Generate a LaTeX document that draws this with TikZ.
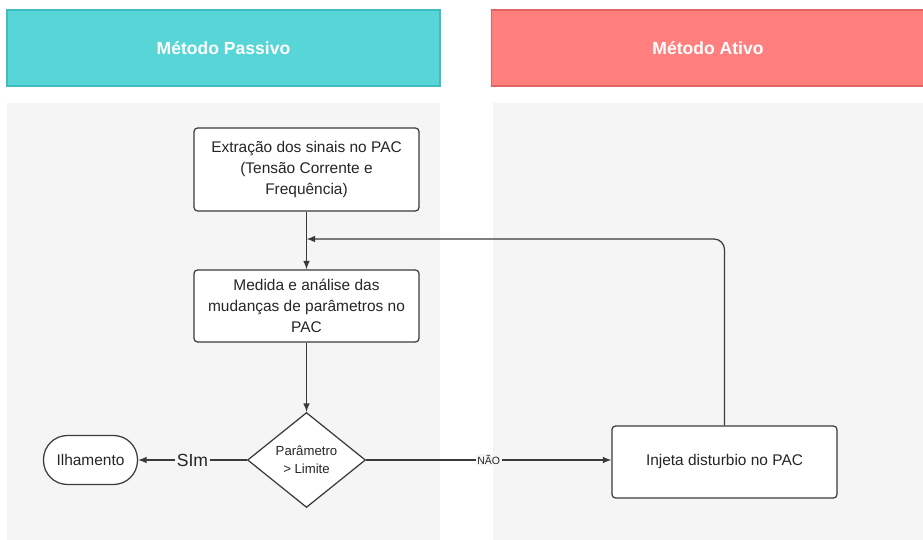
\documentclass[tikz,border=0pt]{standalone}
\usepackage{fontspec}
\setmainfont{Liberation Sans}
\usetikzlibrary{arrows}
\usetikzlibrary{positioning,shapes,fit}
\usepackage{xcolor}
\definecolor{passivo}{HTML}{58D5D6}
\definecolor{passivoedge}{HTML}{3FBCBD}
\definecolor{ativo}{HTML}{FF7F7F}
\definecolor{ativoedge}{HTML}{E06464}
\definecolor{painel}{HTML}{F5F5F5}
\definecolor{linha}{HTML}{3A3A3A}

\begin{document}
\begin{tikzpicture}[x=0.02cm,y=-0.02cm,
    titulo/.style={draw, line width=0.8pt, minimum width=8.66cm, minimum height=1.52cm,
      text=white, font=\fontsize{10}{11}\selectfont\bfseries},
    caixa/.style={draw=linha, fill=white, rounded corners=2pt, line width=0.7pt,
      minimum width=4.5cm, align=center, text=black!85,
      font=\fontsize{8.8}{11.8}\selectfont},
    decisao/.style={draw=linha, fill=white, diamond, line width=0.7pt, inner sep=0pt,
      minimum width=2.36cm, minimum height=1.9cm, align=center, text=black!85,
      font=\fontsize{7.5}{10}\selectfont},
    fim/.style={draw=linha, fill=white, rounded corners=0.48cm, line width=0.7pt,
      minimum width=1.88cm, minimum height=0.98cm, text=black!85,
      font=\fontsize{8.8}{10}\selectfont},
    seta/.style={draw=linha, line width=0.7pt, -latex}]
      \useasboundingbox (0,0) rectangle (923,540);
      % raias
      \fill[painel] (7,103) rectangle (440,540);
      \fill[painel] (493,103) rectangle (923,540);
      \node[titulo, fill=passivo, draw=passivoedge] (passivo) at (223.5,48) {Método Passivo};
      \node[titulo, fill=ativo, draw=ativoedge] (ativo) at (708,48) {Método Ativo};
      % fluxo
      \node[caixa, minimum height=1.66cm] (extracao) at (306.5,169.5)
        {Extração dos sinais no PAC\\(Tensão Corrente e\\Frequência)};
      \node[caixa, minimum height=1.44cm] (medida) at (306.5,306)
        {Medida e análise das\\mudanças de parâmetros no\\PAC};
      \node[decisao] (limite) at (306.5,460) {Parâmetro\\> Limite};
      \node[fim] (ilha) at (90.5,460) {Ilhamento};
      \node[caixa, minimum height=1.44cm] (injeta) at (724.5,462) {Injeta disturbio no PAC};
      \coordinate (volta) at (306.5,239);
      \draw[seta] (extracao) -- (medida);
      \draw[seta] (medida) -- (limite);
      \draw[seta] (limite) -- node[fill=painel, inner sep=1pt,
        font=\fontsize{10}{10}\selectfont, text=black!85] {SIm} (ilha);
      \draw[seta] (limite.east) -- node[fill=painel, inner sep=1pt,
        font=\fontsize{6}{6}\selectfont, text=black!85] {NÃO} (injeta.west |- limite);
      \draw[seta, rounded corners=6pt] (injeta.north) |- (volta);
\end{tikzpicture}
\end{document}
